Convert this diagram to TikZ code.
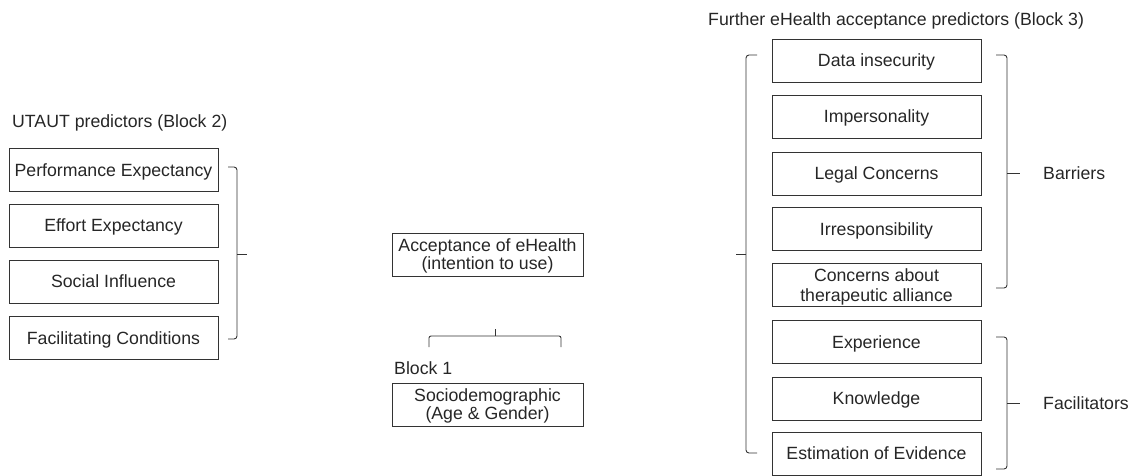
\documentclass[tikz,border=0pt]{standalone}
\usepackage{fontspec}
\setmainfont{Liberation Sans}
\begin{document}
\begin{tikzpicture}[x=1pt,y=-1pt,
  every node/.style={text=black!85, font=\fontsize{17.7}{18}\selectfont},
  box/.style={draw=black!80, line width=0.9pt, minimum width=209pt, minimum height=43pt, inner sep=0pt, align=center, text depth=0pt},
  cbox/.style={box, minimum width=191pt},
  lbl/.style={anchor=west, inner sep=0pt},
  brk/.style={draw=black!80, line width=0.9pt, rounded corners=3pt}]
\useasboundingbox (0,0) rectangle (1131,475);
% Left: UTAUT
\node[lbl] (t2) at (12,123) {UTAUT predictors (Block 2)};
\node[box] (pe) at (113.5,170) {Performance Expectancy};
\node[box] (ee) at (113.5,225.5) {Effort Expectancy};
\node[box] (si) at (113.5,281.5) {Social Influence};
\node[box] (fc) at (113.5,338) {Facilitating Conditions};
\draw[brk] (228,167) -- (237,167) -- (237,339) -- (228,339);
\draw[brk] (237,254) -- (247,254);
% Center
\node[cbox] (acc) at (487.5,254.5) {Acceptance of eHealth\\(intention to use)};
\node[lbl] (b1) at (394,368) {Block 1};
\node[cbox] (soc) at (487.5,404.5) {Sociodemographic\\(Age \& Gender)};
\draw[brk, rounded corners=2pt] (429,347) -- (429,336) -- (561,336) -- (561,347);
\draw[brk] (495,336) -- (495,329);
% Right
\node[lbl] (t3) at (708,21) {Further eHealth acceptance predictors (Block 3)};
\node[box] (di) at (876.5,60.5) {Data insecurity};
\node[box] (im) at (876.5,116.5) {Impersonality};
\node[box] (lc) at (876.5,173.5) {Legal Concerns};
\node[box] (ir) at (876.5,229) {Irresponsibility};
\node[box, font=\fontsize{17.7}{20}\selectfont] (ca) at (876.5,285) {Concerns about\\therapeutic alliance};
\node[box] (ex) at (876.5,342) {Experience};
\node[box] (kn) at (876.5,398.5) {Knowledge};
\node[box] (es) at (876.5,453.5) {Estimation of Evidence};
\draw[brk] (757,55) -- (746,55) -- (746,453) -- (757,453);
\draw[brk] (746,254) -- (736,254);
\draw[brk] (996,55) -- (1007,55) -- (1007,288) -- (996,288);
\draw[brk] (1007,173) -- (1020,173);
\node[lbl] (bar) at (1043,173) {Barriers};
\draw[brk] (996,337) -- (1007,337) -- (1007,469) -- (996,469);
\draw[brk] (1007,403) -- (1020,403);
\node[lbl] (fac) at (1043,403) {Facilitators};
\end{tikzpicture}
\end{document}
